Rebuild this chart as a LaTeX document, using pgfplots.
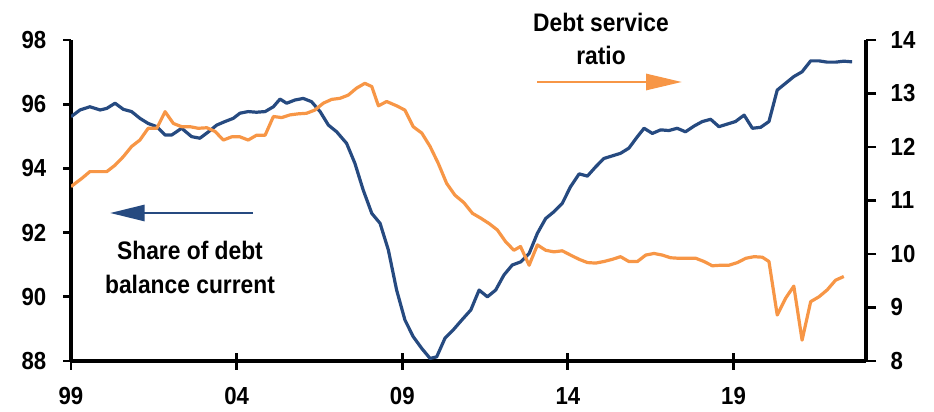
\documentclass[border=0pt]{standalone}
\usepackage{fontspec}
\setmainfont{Liberation Sans}[FakeStretch=0.9]
\usepackage{pgfplots}
\pgfplotsset{compat=1.18}
\usetikzlibrary{arrows.meta}
\definecolor{navy}{HTML}{264A80}
\definecolor{orng}{HTML}{F79646}
\begin{document}
\begin{tikzpicture}
\path[use as bounding box] (0,0) rectangle (700.5pt,308.25pt);
\pgfplotsset{
  every axis/.append style={
    at={(53.25pt,37.5pt)}, anchor=south west, scale only axis,
    width=596.25pt, height=240.75pt,
    xmin=1999, xmax=2023,
    tick label style={font=\fontsize{18.5}{20}\selectfont\bfseries},
    /pgf/number format/assume math mode=true,
    axis line style={line width=2.6pt, black, -},
    tick style={black, line width=2.2pt},
    major tick length=6pt,
  }
}
% x axis with centred major ticks and labels
\begin{axis}[
  ymin=88, ymax=98,
  axis x line*=bottom, axis y line=none,
  x axis line style={-},
  xtick={1999,2004,2009,2014,2019},
  xticklabels={99,04,09,14,19},
  tick align=center,
  major tick length=12.75pt,
  xticklabel style={yshift=-10pt},
]
\end{axis}
\begin{axis}[
  ymin=88, ymax=98,
  axis x line*=bottom, axis y line*=left,
  x axis line style={-}, y axis line style={-},
  ytick={88,90,92,94,96,98},
  xtick=\empty,
  minor xtick={2000,2001,2002,2003,2005,2006,2007,2008,2010,2011,2012,2013,2015,2016,2017,2018,2020,2021,2022,2023},
  tick align=outside,
  minor tick length=5.8pt,
  yticklabel style={xshift=-9pt},
]
\addplot[navy, line width=2.4pt, line join=round] coordinates {
(1999.0,95.61)(1999.27,95.82)(1999.57,95.92)(1999.88,95.82)(2000.08,95.87)(2000.33,96.03)
(2000.58,95.84)(2000.83,95.77)(2001.08,95.56)(2001.33,95.40)(2001.59,95.30)(2001.84,95.04)
(2002.04,95.04)(2002.34,95.25)(2002.64,94.99)(2002.89,94.94)(2003.15,95.14)(2003.40,95.35)
(2003.65,95.46)(2003.90,95.56)(2004.10,95.72)(2004.35,95.77)(2004.60,95.75)(2004.86,95.77)
(2005.11,95.92)(2005.31,96.16)(2005.51,96.03)(2005.76,96.13)(2006.01,96.18)(2006.26,96.08)
(2006.52,95.77)(2006.77,95.35)(2007.02,95.14)(2007.32,94.78)(2007.57,94.16)(2007.82,93.33)
(2008.08,92.60)(2008.33,92.29)(2008.58,91.46)(2008.83,90.21)(2009.08,89.28)(2009.33,88.76)
(2009.59,88.39)(2009.84,88.08)(2010.04,88.13)(2010.29,88.71)(2010.54,88.97)(2010.80,89.28)
(2011.07,89.59)(2011.32,90.21)(2011.57,90.00)(2011.82,90.21)(2012.07,90.68)(2012.32,90.99)
(2012.58,91.09)(2012.83,91.35)(2013.08,91.98)(2013.33,92.44)(2013.58,92.65)(2013.83,92.91)
(2014.08,93.43)(2014.34,93.83)(2014.59,93.76)(2014.84,94.05)(2015.09,94.31)(2015.34,94.39)
(2015.59,94.47)(2015.84,94.63)(2016.10,94.99)(2016.30,95.25)(2016.55,95.09)(2016.80,95.20)
(2017.05,95.18)(2017.30,95.25)(2017.55,95.14)(2017.81,95.32)(2018.06,95.46)(2018.31,95.53)
(2018.56,95.30)(2018.81,95.38)(2019.06,95.46)(2019.32,95.66)(2019.57,95.25)(2019.82,95.28)
(2020.07,95.46)(2020.32,96.44)(2020.57,96.65)(2020.82,96.86)(2021.07,97.01)(2021.33,97.35)
(2021.58,97.35)(2021.83,97.31)(2022.08,97.31)(2022.33,97.34)(2022.58,97.32)
};
\end{axis}
\begin{axis}[
  ymin=8, ymax=14,
  axis y line*=right, axis x line=none,
  y axis line style={-},
  ytick={8,9,10,11,12,13,14},
  tick align=outside,
  major tick length=7.5pt,
  yticklabel style={xshift=7.5pt},
]
\addplot[orng, line width=2.4pt, line join=round] coordinates {
(1999.0,11.26)(1999.32,11.41)(1999.57,11.54)(1999.82,11.54)(2000.08,11.54)(2000.33,11.66)
(2000.58,11.82)(2000.83,12.01)(2001.08,12.13)(2001.33,12.35)(2001.59,12.35)(2001.84,12.66)
(2002.09,12.44)(2002.34,12.38)(2002.59,12.38)(2002.84,12.35)(2003.10,12.36)(2003.35,12.29)
(2003.60,12.13)(2003.85,12.19)(2004.10,12.19)(2004.35,12.13)(2004.60,12.22)(2004.86,12.22)
(2005.11,12.57)(2005.36,12.55)(2005.61,12.60)(2005.86,12.62)(2006.11,12.63)(2006.36,12.69)
(2006.62,12.82)(2006.87,12.89)(2007.12,12.91)(2007.37,12.97)(2007.62,13.10)(2007.87,13.19)
(2008.08,13.13)(2008.28,12.77)(2008.53,12.85)(2008.83,12.77)(2009.08,12.69)(2009.33,12.38)
(2009.59,12.26)(2009.84,12.01)(2010.09,11.69)(2010.34,11.32)(2010.59,11.10)(2010.86,10.96)
(2011.12,10.76)(2011.37,10.67)(2011.62,10.57)(2011.87,10.45)(2012.12,10.23)(2012.37,10.07)
(2012.57,10.14)(2012.83,9.79)(2013.08,10.17)(2013.33,10.07)(2013.58,10.04)(2013.83,10.06)
(2014.08,9.98)(2014.34,9.90)(2014.59,9.84)(2014.84,9.83)(2015.09,9.86)(2015.34,9.90)
(2015.59,9.95)(2015.84,9.86)(2016.10,9.86)(2016.35,9.98)(2016.60,10.01)(2016.85,9.98)
(2017.10,9.93)(2017.35,9.92)(2017.60,9.92)(2017.86,9.92)(2018.11,9.86)(2018.36,9.78)
(2018.61,9.79)(2018.86,9.79)(2019.12,9.84)(2019.37,9.92)(2019.62,9.95)(2019.87,9.94)
(2020.07,9.86)(2020.32,8.86)(2020.57,9.17)(2020.82,9.40)(2021.07,8.39)(2021.33,9.11)
(2021.58,9.20)(2021.83,9.33)(2022.08,9.51)(2022.33,9.58)
};
\end{axis}
% annotations
\draw[orng, line width=2.2pt, -{Triangle[length=27pt,width=12pt]}] (402.75pt,246.75pt) -- (511.5pt,246.75pt);
\draw[navy, line width=2.2pt, -{Triangle[length=26pt,width=12pt]}] (189.75pt,148.5pt) -- (82.5pt,148.5pt);
\node[anchor=base, inner sep=0pt, font=\fontsize{19}{21}\selectfont\bfseries] at (450.75pt,284.5pt) {Debt service};
\node[anchor=base, inner sep=0pt, font=\fontsize{19}{21}\selectfont\bfseries] at (450.75pt,259.5pt) {ratio};
\node[anchor=base, inner sep=0pt, font=\fontsize{19}{21}\selectfont\bfseries] at (142.5pt,114pt) {Share of debt};
\node[anchor=base, inner sep=0pt, font=\fontsize{19}{21}\selectfont\bfseries] at (142.5pt,88.5pt) {balance current};
\end{tikzpicture}
\end{document}
